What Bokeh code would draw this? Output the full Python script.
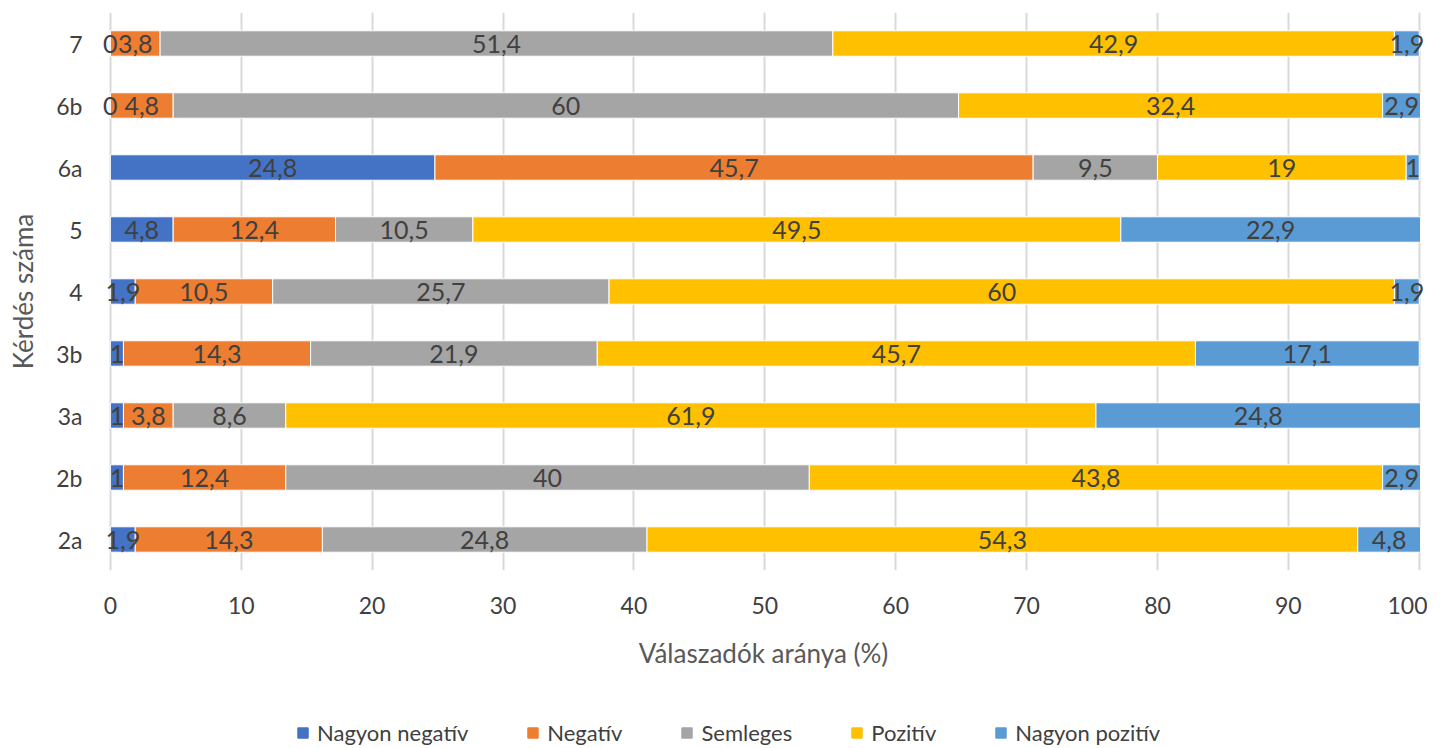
from bokeh.plotting import figure
from bokeh.models import ColumnDataSource, Legend, LegendItem, FactorRange, Range1d
from bokeh.layouts import column
from bokeh.core.properties import value
from bokeh.embed import file_html
from bokeh.resources import INLINE

categories = ["2a", "2b", "3a", "3b", "4", "5", "6a", "6b", "7"]
series_names = ["Nagyon negatív", "Negatív", "Semleges", "Pozitív", "Nagyon pozitív"]
nagyon_negativ = [1.9, 1, 1, 1, 1.9, 4.8, 24.8, 0, 0]
negativ = [14.3, 12.4, 3.8, 14.3, 10.5, 12.4, 45.7, 4.8, 3.8]
semleges = [24.8, 40, 8.6, 21.9, 25.7, 10.5, 9.5, 60, 51.4]
pozitiv = [54.3, 43.8, 61.9, 45.7, 60, 49.5, 19, 32.4, 42.9]
nagyon_pozitiv = [4.8, 2.9, 24.8, 17.1, 1.9, 22.9, 1, 2.9, 1.9]
x_ticks = [0, 10, 20, 30, 40, 50, 60, 70, 80, 90, 100]

colors = ["#4472C4", "#ED7D31", "#A5A5A5", "#FFC000", "#5B9BD5"]
FONT = "Lato"
series = [nagyon_negativ, negativ, semleges, pozitiv, nagyon_pozitiv]
keys = ["s0", "s1", "s2", "s3", "s4"]

data = {"cat": categories}
for k, s in zip(keys, series):
    data[k] = s
source = ColumnDataSource(data)

W = 1427
p = figure(y_range=FactorRange(*categories, range_padding=0), x_range=Range1d(-0.6, 100.4),
           width=W, height=690, output_backend="svg", toolbar_location=None,
           min_border_left=102, min_border_right=3, min_border_top=12, min_border_bottom=120)
p.outline_line_color = None

renderers = p.hbar_stack(keys, y="cat", height=0.41, color=colors, line_color="white",
                         line_width=1, source=source)

# data labels centred in each segment
lx, ly, lt = [], [], []
for i, c in enumerate(categories):
    left = 0.0
    for s in series:
        v = s[i]
        lx.append(left + v / 2.0)
        ly.append(c)
        lt.append(("%g" % v).replace(".", ","))
        left += v
p.text(x=lx, y=ly, text=lt, text_align="center", text_baseline="middle",
       text_font=value(FONT), text_font_size="25px", text_color="#404040")

p.xgrid.grid_line_color = "#D9D9D9"
p.xgrid.grid_line_width = 2
p.ygrid.grid_line_color = None
p.xaxis.ticker = x_ticks
for ax in (p.xaxis[0], p.yaxis[0]):
    ax.axis_line_color = None
    ax.major_tick_line_color = None
    ax.minor_tick_line_color = None
    ax.major_label_text_font = FONT
    ax.major_label_text_font_size = "23px"
    ax.major_label_text_color = "#404040"
    ax.axis_label_text_font = FONT
    ax.axis_label_text_font_size = "26px"
    ax.axis_label_text_font_style = "normal"
    ax.axis_label_text_color = "#595959"
p.xaxis.axis_label = "Válaszadók aránya (%)"
p.yaxis.axis_label = "Kérdés száma"
p.xaxis.major_label_standoff = 20
p.xaxis.axis_label_standoff = 20
p.yaxis.major_label_standoff = 14
p.yaxis.axis_label_standoff = 14

# legend strip below the chart
lg = figure(width=W, height=58, output_backend="svg", toolbar_location=None,
            x_range=Range1d(0, 1), y_range=Range1d(0, 1),
            x_axis_location=None, y_axis_location=None,
            min_border_left=0, min_border_right=0, min_border_top=0, min_border_bottom=0)
lg.grid.visible = False
lg.outline_line_color = None
dummy = ColumnDataSource({"y": [-5], "l": [-5], "r": [-4]})
items = []
for n, col in zip(series_names, colors):
    r = lg.hbar(y="y", left="l", right="r", height=0.5, color=col, source=dummy)
    items.append(LegendItem(label=n, renderers=[r]))
legend = Legend(items=items, orientation="horizontal", location=(194, 2),
                label_text_font=FONT, label_text_font_size="22px", label_text_color="#404040",
                glyph_width=13, glyph_height=13, label_standoff=8, spacing=58,
                padding=0, margin=0, background_fill_alpha=0, border_line_color=None)
lg.add_layout(legend, "center")

layout = column(p, lg, spacing=0)
open("out.html", "w").write(file_html(layout, INLINE))
